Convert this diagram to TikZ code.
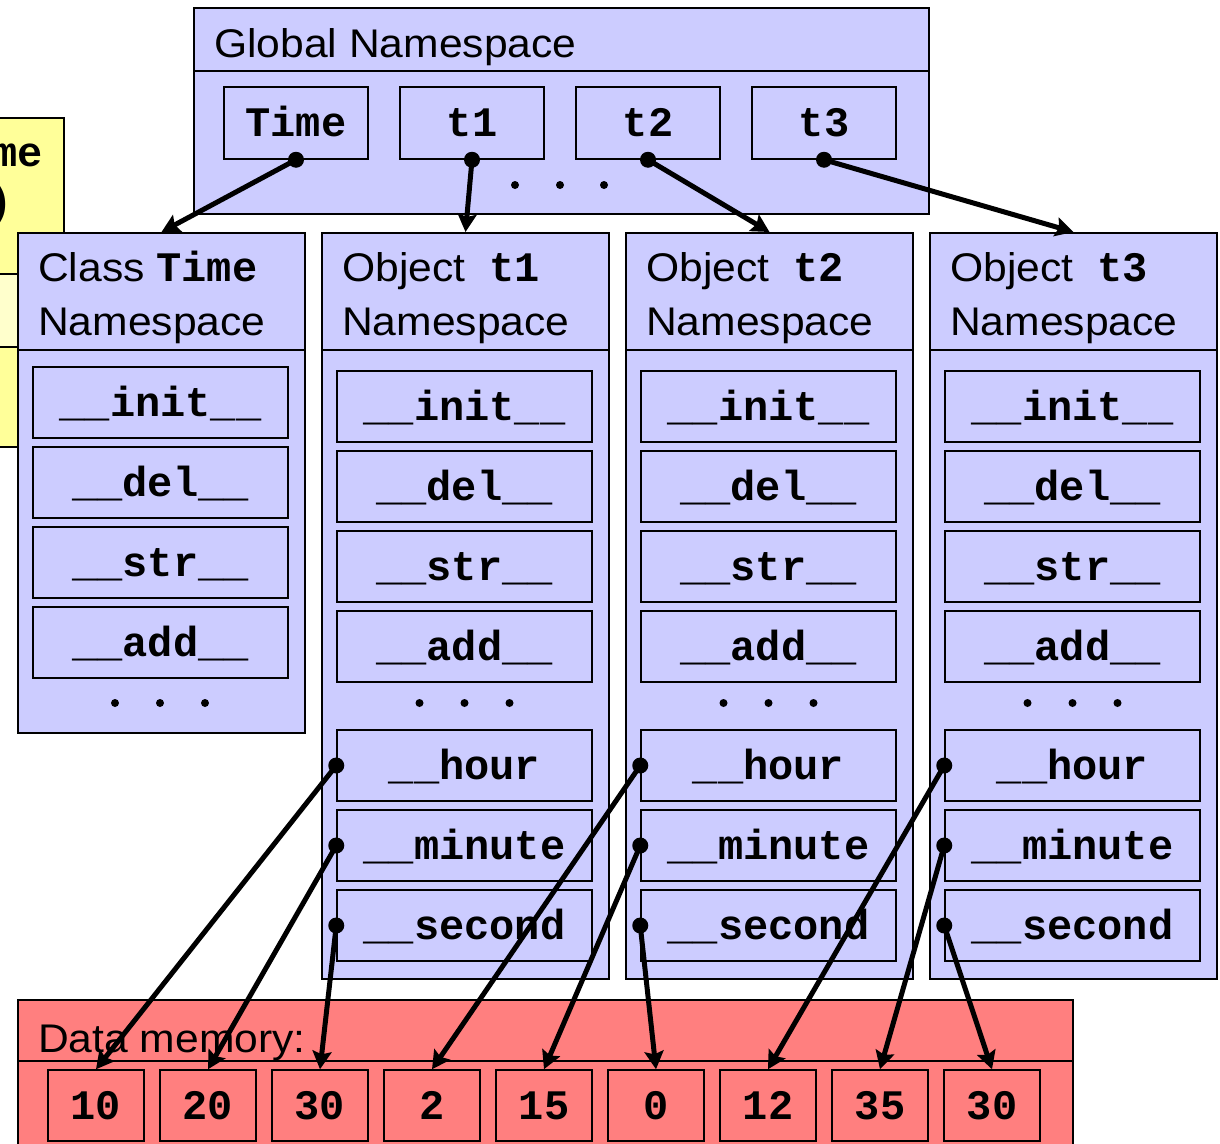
\documentclass[tikz,border=0pt]{standalone}
\usepackage{fontspec}
\setmainfont{Liberation Sans}[FakeStretch=1.065]
\newfontfamily\codefont{Liberation Mono}
\usetikzlibrary{arrows.meta}
\definecolor{lav}{HTML}{CCCCFF}
\definecolor{memred}{HTML}{FF7F7F}
\definecolor{yel}{HTML}{FFFF99}
\definecolor{lyel}{HTML}{FFFFCC}
\newcommand\ttlfont{\fontsize{40}{48}\selectfont}
\newcommand\codebf{\codefont\bfseries\fontsize{42}{50}\selectfont}
\begin{document}
\begin{tikzpicture}[x=1pt,y=-1pt,
  panel/.style={draw=black, fill=lav, line width=2pt, anchor=north west, inner sep=0pt},
  slot/.style={draw=black, fill=lav, line width=1.5pt, minimum width=255pt, minimum height=71pt,
    inner sep=0pt, text height=28pt, text depth=1pt, font=\codebf},
  gcell/.style={slot, minimum width=144pt, minimum height=72pt},
  mcell/.style={slot, fill=memred, minimum width=96pt, minimum height=71pt},
  ttl/.style={anchor=base west, inner sep=0pt, font=\ttlfont},
  conn/.style={line width=5pt, -{Stealth[length=18pt,width=19pt,inset=3pt]}},
]
\useasboundingbox (0,0) rectangle (1220,1143);
\clip (0,0) rectangle (1220,1143);

% yellow partially visible box
\path[fill=yel, draw=black, line width=1.5pt] (-60,118) rectangle (64,447);
\path[fill=lyel, draw=black, line width=1.5pt] (-60,274) rectangle (64,347);
\node[anchor=base east, inner sep=0pt, font=\codebf] (yme) at (43,166) {me};
\node[anchor=base east, inner sep=0pt, font=\codebf] (ypar) at (13,215) {)};

% global namespace
\node[panel, minimum width=735pt, minimum height=206pt] (global) at (193,7) {};
\draw[line width=2pt] (193,71) -- (928,71);
\node[ttl] (gtitle) at (214,57) {Global Namespace};
\node[gcell] (gTime) at (296,123) {Time};
\node[gcell] (gt1) at (472,123) {t1};
\node[gcell] (gt2) at (648,123) {t2};
\node[gcell] (gt3) at (824,123) {t3};
\foreach \x in {515,560,604} \fill (\x,185) circle[radius=4pt];

% class Time namespace
\node[panel, minimum width=287pt, minimum height=500pt] (classT) at (17,232) {};
\draw[line width=2pt] (17,350) -- (304,350);
\node[ttl] (ctitle) at (38,281) {Class {\codebf Time}};
\node[ttl] (ctitleb) at (38,335) {Namespace};
\node[slot] (cinit) at (160.5,402.5) {\_\_init\_\_};
\node[slot] (cdel) at (160.5,482.5) {\_\_del\_\_};
\node[slot] (cstr) at (160.5,562.5) {\_\_str\_\_};
\node[slot] (cadd) at (160.5,642.5) {\_\_add\_\_};
\foreach \x in {115,160,205} \fill (\x,703) circle[radius=4pt];

% object namespaces
\foreach \i/\L in {1/321,2/625,3/929}{
  \pgfmathsetmacro{\cx}{\L+143.5}
  \node[panel, minimum width=287pt, minimum height=746pt] (obj\i) at (\L,232) {};
  \draw[line width=2pt] (\L,350) -- ({\L+287},350);
  \node[ttl] (otitle\i) at ({\L+21},281) {Object\hspace{12pt} {\codebf t\i}};
  \node[ttl] (otitleb\i) at ({\L+21},335) {Namespace};
  \node[slot] (init\i) at (\cx,406.5) {\_\_init\_\_};
  \node[slot] (del\i) at (\cx,486.5) {\_\_del\_\_};
  \node[slot] (str\i) at (\cx,566.5) {\_\_str\_\_};
  \node[slot] (add\i) at (\cx,646.5) {\_\_add\_\_};
  \foreach \d in {-45,0,45} \fill ({\cx+\d},703) circle[radius=4pt];
  \node[slot] (hour\i) at (\cx,765.5) {\_\_hour};
  \node[slot] (minute\i) at (\cx,845.5) {\_\_minute};
  \node[slot] (second\i) at (\cx,925.5) {\_\_second};
}

% data memory
\node[panel, fill=memred, minimum width=1055pt, minimum height=220pt] (mem) at (17,999) {};
\draw[line width=2pt] (17,1061) -- (1072,1061);
\node[ttl] (mtitle) at (38,1052) {Data memory:};
\foreach \k/\v in {1/10,2/20,3/30,4/2,5/15,6/0,7/12,8/35,9/30}{
  \node[mcell] (m\k) at ({96+112*(\k-1)},1105.5) {\v};
}

% connectors from global names
\foreach \a/\b in {gTime/classT,gt1/obj1,gt2/obj2,gt3/obj3}{
  \draw[conn] (\a.south) -- (\b.north);
  \fill (\a.south) circle[radius=8pt];
}
% connectors to data memory
\foreach \a/\b in {hour1/m1,minute1/m2,second1/m3,hour2/m4,minute2/m5,second2/m6,hour3/m7,minute3/m8,second3/m9}{
  \draw[conn] (\a.west) -- (\b.north);
  \fill (\a.west) circle[radius=8pt];
}
\end{tikzpicture}
\end{document}
